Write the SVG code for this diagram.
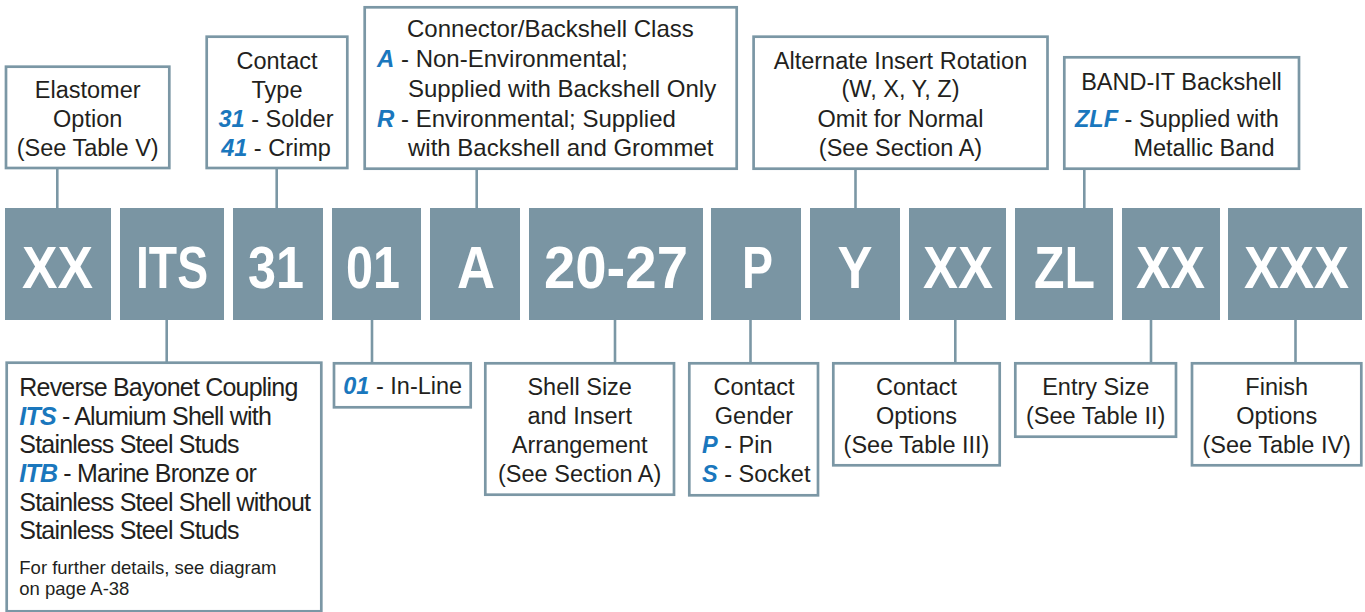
<svg xmlns="http://www.w3.org/2000/svg" width="1365" height="612" viewBox="0 0 1365 612">
<style>
  .box{fill:#ffffff;stroke:#7B97A5;stroke-width:2.7}
  .code{fill:#7A95A3}
  .ct{font-family:"Liberation Sans",Arial,sans-serif;font-weight:bold;font-size:60px;fill:#ffffff;text-anchor:middle}
  .t{font-family:"Liberation Sans",Arial,sans-serif;font-size:23.5px;fill:#231F20}
  .m{text-anchor:middle}
  .b{font-weight:bold;font-style:italic;fill:#1A77BD}
  .big{font-size:24px}
  .rv{font-size:25px;letter-spacing:-0.8px}
  .sm{font-size:18.5px}
  .ln{stroke:#7B97A5;stroke-width:2.6;fill:none}
</style>
<rect width="1365" height="612" fill="#ffffff"/>

<g id="connectors">
  <line class="ln" x1="57.3" y1="168" x2="57.3" y2="208"/>
  <line class="ln" x1="276.7" y1="168" x2="276.7" y2="208"/>
  <line class="ln" x1="476.7" y1="168.7" x2="476.7" y2="208"/>
  <line class="ln" x1="855.5" y1="168.7" x2="855.5" y2="208"/>
  <line class="ln" x1="1084.3" y1="168.7" x2="1084.3" y2="208"/>
  <line class="ln" x1="166.7" y1="320" x2="166.7" y2="362.7"/>
  <line class="ln" x1="372" y1="320" x2="372" y2="363.3"/>
  <line class="ln" x1="615" y1="320" x2="615" y2="363.3"/>
  <line class="ln" x1="750.5" y1="320" x2="750.5" y2="363.3"/>
  <line class="ln" x1="955.3" y1="320" x2="955.3" y2="363.3"/>
  <line class="ln" x1="1151" y1="320" x2="1151" y2="363.3"/>
  <line class="ln" x1="1295.5" y1="320" x2="1295.5" y2="363.3"/>
</g>

<g id="code-row">
  <g id="code-xx1"><rect class="code" x="5" y="208" width="106" height="112"/><text class="ct" x="57.5" y="288" textLength="71" lengthAdjust="spacingAndGlyphs">XX</text></g>
  <g id="code-its"><rect class="code" x="120" y="208" width="104" height="112"/><text class="ct" x="172" y="288" textLength="72" lengthAdjust="spacingAndGlyphs">ITS</text></g>
  <g id="code-31"><rect class="code" x="233" y="208" width="90" height="112"/><text class="ct" x="276" y="288" textLength="56" lengthAdjust="spacingAndGlyphs">31</text></g>
  <g id="code-01"><rect class="code" x="332" y="208" width="89" height="112"/><text class="ct" x="373" y="288" textLength="54" lengthAdjust="spacingAndGlyphs">01</text></g>
  <g id="code-a"><rect class="code" x="430" y="208" width="90" height="112"/><text class="ct" x="476" y="288" textLength="38" lengthAdjust="spacingAndGlyphs">A</text></g>
  <g id="code-2027"><rect class="code" x="529" y="208" width="174" height="112"/><text class="ct" x="616" y="288" textLength="144" lengthAdjust="spacingAndGlyphs">20-27</text></g>
  <g id="code-p"><rect class="code" x="711" y="208" width="90" height="112"/><text class="ct" x="757.5" y="288" textLength="31" lengthAdjust="spacingAndGlyphs">P</text></g>
  <g id="code-y"><rect class="code" x="810" y="208" width="90" height="112"/><text class="ct" x="855" y="288" textLength="35" lengthAdjust="spacingAndGlyphs">Y</text></g>
  <g id="code-xx2"><rect class="code" x="909" y="208" width="97" height="112"/><text class="ct" x="958" y="288" textLength="70" lengthAdjust="spacingAndGlyphs">XX</text></g>
  <g id="code-zl"><rect class="code" x="1015" y="208" width="98" height="112"/><text class="ct" x="1064.5" y="288" textLength="61" lengthAdjust="spacingAndGlyphs">ZL</text></g>
  <g id="code-xx3"><rect class="code" x="1122" y="208" width="98" height="112"/><text class="ct" x="1170.5" y="288" textLength="69" lengthAdjust="spacingAndGlyphs">XX</text></g>
  <g id="code-xxx"><rect class="code" x="1228" y="208" width="134" height="112"/><text class="ct" x="1296.5" y="288" textLength="105" lengthAdjust="spacingAndGlyphs">XXX</text></g>
</g>

<g id="elastomer">
  <rect class="box" x="6" y="66.7" width="163.3" height="101.3"/>
  <text class="t m" x="87.7" y="98">Elastomer</text>
  <text class="t m" x="87.7" y="127">Option</text>
  <text class="t m" x="87.7" y="156">(See Table V)</text>
</g>

<g id="contact-type">
  <rect class="box" x="206.7" y="36.7" width="140.6" height="131.3"/>
  <text class="t m" x="277" y="69">Contact</text>
  <text class="t m" x="277" y="98">Type</text>
  <text class="t m" x="276" y="127"><tspan class="b">31</tspan> - Solder</text>
  <text class="t m" x="276" y="156"><tspan class="b">41</tspan> - Crimp</text>
</g>

<g id="class">
  <rect class="box" x="364.7" y="7.3" width="372" height="161.4"/>
  <text class="t big" x="407" y="37">Connector/Backshell Class</text>
  <text class="t big" x="377" y="67"><tspan class="b">A</tspan> - Non-Environmental;</text>
  <text class="t big" x="408" y="96.5">Supplied with Backshell Only</text>
  <text class="t big" x="377" y="126.5"><tspan class="b">R</tspan> - Environmental; Supplied</text>
  <text class="t big" x="408" y="156">with Backshell and Grommet</text>
</g>

<g id="rotation">
  <rect class="box" x="753.6" y="36.7" width="293.9" height="132"/>
  <text class="t m" x="900.5" y="68.5">Alternate Insert Rotation</text>
  <text class="t m" x="900.5" y="97">(W, X, Y, Z)</text>
  <text class="t m" x="900.5" y="126.5">Omit for Normal</text>
  <text class="t m" x="900.5" y="156">(See Section A)</text>
</g>

<g id="bandit">
  <rect class="box" x="1064.3" y="57.3" width="234.7" height="111.4"/>
  <text class="t m" x="1181.5" y="90">BAND-IT Backshell</text>
  <text class="t" x="1075" y="126.5"><tspan class="b">ZLF</tspan> - Supplied with</text>
  <text class="t" x="1133.4" y="156">Metallic Band</text>
</g>

<g id="coupling">
  <rect class="box" x="6.7" y="362.7" width="314.6" height="248.6"/>
  <text class="t rv" x="19.3" y="396">Reverse Bayonet Coupling</text>
  <text class="t rv" x="19.3" y="424.5"><tspan class="b">ITS</tspan> - Alumium Shell with</text>
  <text class="t rv" x="19.3" y="453">Stainless Steel Studs</text>
  <text class="t rv" x="19.3" y="482"><tspan class="b">ITB</tspan> - Marine Bronze or</text>
  <text class="t rv" x="19.3" y="510.5">Stainless Steel Shell without</text>
  <text class="t rv" x="19.3" y="539">Stainless Steel Studs</text>
  <text class="t sm" x="19.3" y="573.5">For further details, see diagram</text>
  <text class="t sm" x="19.3" y="594.5">on page A-38</text>
</g>

<g id="inline">
  <rect class="box" x="334" y="363.3" width="136.7" height="44"/>
  <text class="t" x="343.3" y="394"><tspan class="b">01</tspan> - In-Line</text>
</g>

<g id="shell-size">
  <rect class="box" x="485.3" y="363.3" width="188.7" height="131.4"/>
  <text class="t m" x="579.7" y="395">Shell Size</text>
  <text class="t m" x="579.7" y="424">and Insert</text>
  <text class="t m" x="579.7" y="453">Arrangement</text>
  <text class="t m" x="579.7" y="482">(See Section A)</text>
</g>

<g id="gender">
  <rect class="box" x="689.3" y="363.3" width="128.7" height="132"/>
  <text class="t m" x="754" y="395">Contact</text>
  <text class="t m" x="754" y="424">Gender</text>
  <text class="t" x="702" y="453"><tspan class="b">P</tspan> - Pin</text>
  <text class="t" x="702" y="482"><tspan class="b">S</tspan> - Socket</text>
</g>

<g id="contact-options">
  <rect class="box" x="833.3" y="363.3" width="166.4" height="102"/>
  <text class="t m" x="916.5" y="395">Contact</text>
  <text class="t m" x="916.5" y="424">Options</text>
  <text class="t m" x="916.5" y="453">(See Table III)</text>
</g>

<g id="entry-size">
  <rect class="box" x="1015.3" y="363.3" width="160.7" height="73.4"/>
  <text class="t m" x="1095.7" y="395">Entry Size</text>
  <text class="t m" x="1095.7" y="424">(See Table II)</text>
</g>

<g id="finish">
  <rect class="box" x="1192" y="363.3" width="169.3" height="102"/>
  <text class="t m" x="1276.7" y="395">Finish</text>
  <text class="t m" x="1276.7" y="424">Options</text>
  <text class="t m" x="1276.7" y="453">(See Table IV)</text>
</g>
</svg>
